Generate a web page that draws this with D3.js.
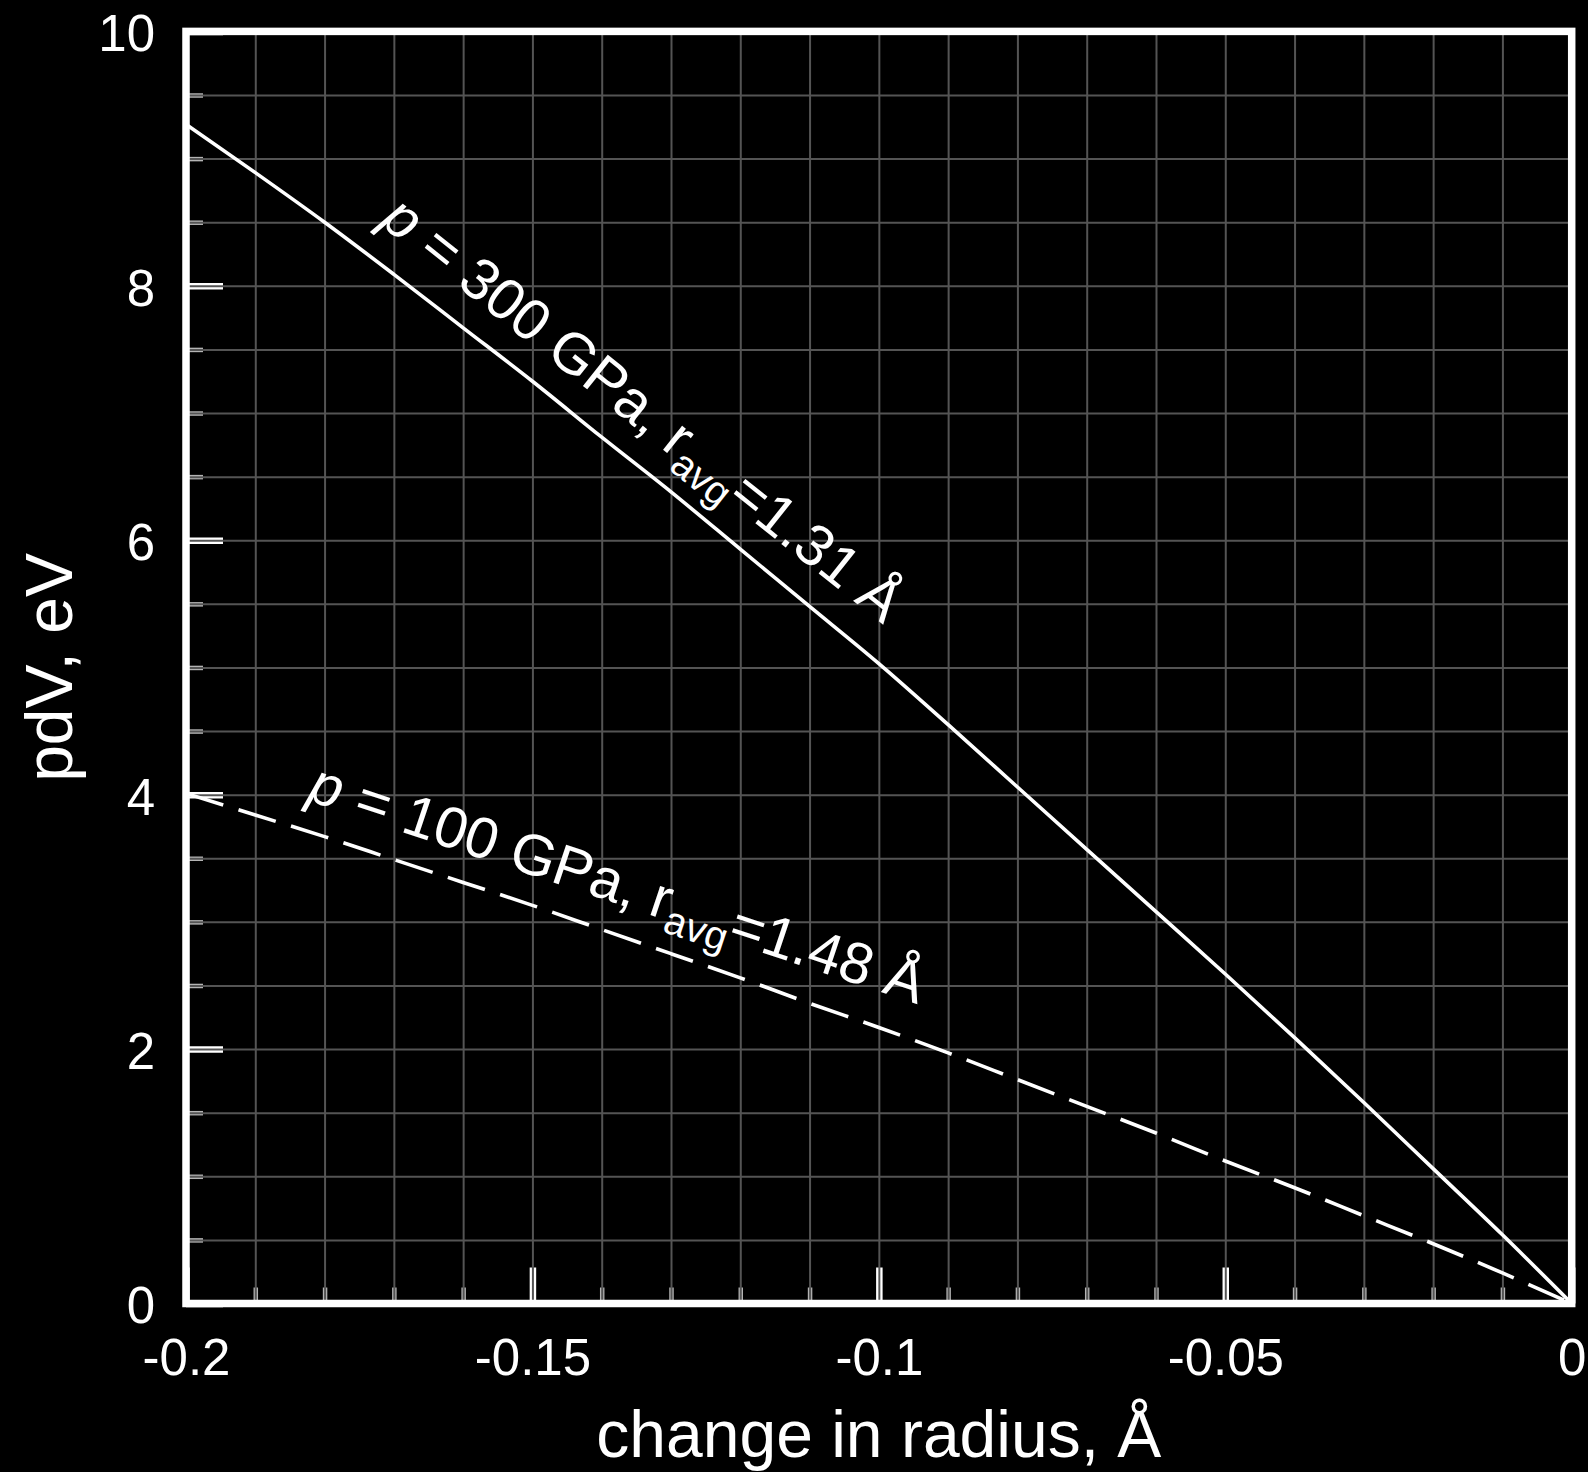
<!DOCTYPE html>
<html>
<head>
<meta charset="utf-8">
<script src="https://cdn.jsdelivr.net/npm/d3@7"></script>
<style>
  html, body { margin: 0; padding: 0; background: #000; }
  svg { display: block; }
  text { font-family: "Liberation Sans", Arial, Helvetica, sans-serif; fill: #fff; }
</style>
</head>
<body>
<svg id="chart" width="1588" height="1472"></svg>
<script>
// change in radius (Å)
const radiusChange = [-0.20, -0.19, -0.18, -0.17, -0.16, -0.15, -0.14, -0.13, -0.12, -0.11,
                      -0.10, -0.09, -0.08, -0.07, -0.06, -0.05, -0.04, -0.03, -0.02, -0.01, 0.00];
// pdV (eV) at p = 300 GPa, r_avg = 1.31 Å
const pdv300 = [9.27, 8.89, 8.50, 8.09, 7.67, 7.25, 6.81, 6.38, 5.93, 5.48,
                5.03, 4.55, 4.06, 3.57, 3.08, 2.59, 2.09, 1.58, 1.06, 0.54, 0.00];
// pdV (eV) at p = 100 GPa, r_avg = 1.48 Å
const pdv100 = [4.01, 3.84, 3.67, 3.49, 3.31, 3.13, 2.94, 2.75, 2.56, 2.36,
                2.17, 1.97, 1.76, 1.55, 1.34, 1.12, 0.91, 0.69, 0.47, 0.24, 0.00];

const xTickValues = [-0.2, -0.15, -0.1, -0.05, 0];
const xTickLabels = ["-0.2", "-0.15", "-0.1", "-0.05", "0"];
const yTickValues = [0, 2, 4, 6, 8, 10];
const yTickLabels = ["0", "2", "4", "6", "8", "10"];

(function draw() {
  const svg = d3.select("#chart");
  svg.append("rect").attr("width", 1588).attr("height", 1472).attr("fill", "#000");

  const m = { left: 186, right: 1571.7, top: 31.4, bottom: 1303.5 };
  const x = d3.scaleLinear().domain([-0.2, 0]).range([m.left, m.right]);
  const y = d3.scaleLinear().domain([0, 10]).range([m.bottom, m.top]);
  const plotW = m.right - m.left, plotH = m.bottom - m.top;

  function clean(g) { g.select(".domain").remove(); g.selectAll("text").remove(); }

  // minor ticks (every 0.01 / 0.5), pointing inward
  svg.append("g").attr("transform", `translate(0,${m.bottom})`)
    .call(d3.axisBottom(x).ticks(20).tickSize(-16).tickFormat(""))
    .call(clean)
    .selectAll("line").attr("stroke", "#b4b4b4").attr("stroke-width", 4.5);
  svg.append("g").attr("transform", `translate(${m.left},0)`)
    .call(d3.axisLeft(y).ticks(20).tickSize(-17).tickFormat(""))
    .call(clean)
    .selectAll("line").attr("stroke", "#b4b4b4").attr("stroke-width", 4.5);

  // major ticks
  svg.append("g").attr("transform", `translate(0,${m.bottom})`)
    .call(d3.axisBottom(x).tickValues(xTickValues).tickSize(-36).tickFormat(""))
    .call(clean)
    .selectAll("line").attr("stroke", "#fff").attr("stroke-width", 6.5);
  svg.append("g").attr("transform", `translate(${m.left},0)`)
    .call(d3.axisLeft(y).tickValues(yTickValues).tickSize(-37).tickFormat(""))
    .call(clean)
    .selectAll("line").attr("stroke", "#fff").attr("stroke-width", 6.5);

  // grid
  svg.append("g").attr("transform", `translate(0,${m.bottom})`)
    .call(d3.axisBottom(x).ticks(20).tickSize(-plotH).tickFormat(""))
    .call(clean)
    .selectAll("line").attr("stroke", "#545454").attr("stroke-width", 2);
  svg.append("g").attr("transform", `translate(${m.left},0)`)
    .call(d3.axisLeft(y).ticks(20).tickSize(-plotW).tickFormat(""))
    .call(clean)
    .selectAll("line").attr("stroke", "#545454").attr("stroke-width", 2);

  // curves
  const curve = d3.line().x((d, i) => x(radiusChange[i])).y(d => y(d)).curve(d3.curveMonotoneX);
  svg.append("path").datum(pdv300).attr("d", curve)
    .attr("fill", "none").attr("stroke", "#fff").attr("stroke-width", 3.6);
  svg.append("path").datum(pdv100).attr("d", curve)
    .attr("fill", "none").attr("stroke", "#fff").attr("stroke-width", 3.6)
    .attr("stroke-dasharray", "39,16");

  // frame
  svg.append("rect").attr("x", m.left).attr("y", m.top).attr("width", plotW).attr("height", plotH)
    .attr("fill", "none").attr("stroke", "#fff").attr("stroke-width", 7.5);

  // tick labels
  svg.append("g").attr("transform", `translate(0,${m.bottom})`)
    .call(d3.axisBottom(x).tickValues(xTickValues).tickSize(0).tickPadding(35)
          .tickFormat((d, i) => xTickLabels[i]))
    .call(g => g.select(".domain").remove())
    .selectAll("text").attr("font-size", 51).attr("fill", "#fff")
    .attr("font-family", "Liberation Sans, Arial, sans-serif");
  svg.append("g").attr("transform", `translate(${m.left},0)`)
    .call(d3.axisLeft(y).tickValues(yTickValues).tickSize(0).tickPadding(31)
          .tickFormat((d, i) => yTickLabels[i]))
    .call(g => g.select(".domain").remove())
    .selectAll("text").attr("font-size", 51).attr("fill", "#fff").attr("dy", "0.38em")
    .attr("font-family", "Liberation Sans, Arial, sans-serif");

  // axis titles
  svg.append("text").attr("x", (m.left + m.right) / 2).attr("y", 1457)
    .attr("text-anchor", "middle").attr("font-size", 66)
    .text("change in radius, Å");
  svg.append("text").attr("transform", `translate(72,${(m.top + m.bottom) / 2}) rotate(-90)`)
    .attr("text-anchor", "middle").attr("font-size", 66)
    .text("pdV, eV");

  // curve labels
  function curveLabel(px, py, angle, pressure, radius) {
    const t = svg.append("text")
      .attr("transform", `translate(${x(px)},${y(py)}) rotate(${angle})`)
      .attr("font-size", 58);
    t.append("tspan").attr("font-style", "italic").text("p");
    t.append("tspan").text(` = ${pressure} GPa, r`);
    t.append("tspan").attr("font-size", 40).attr("dy", 12).text("avg");
    t.append("tspan").attr("dy", -12).text(`=${radius} Å`);
  }
  curveLabel(-0.1722, 8.49, 38.5, 300, "1.31");
  curveLabel(-0.1827, 3.96, 18.5, 100, "1.48");
})();
</script>
</body>
</html>
